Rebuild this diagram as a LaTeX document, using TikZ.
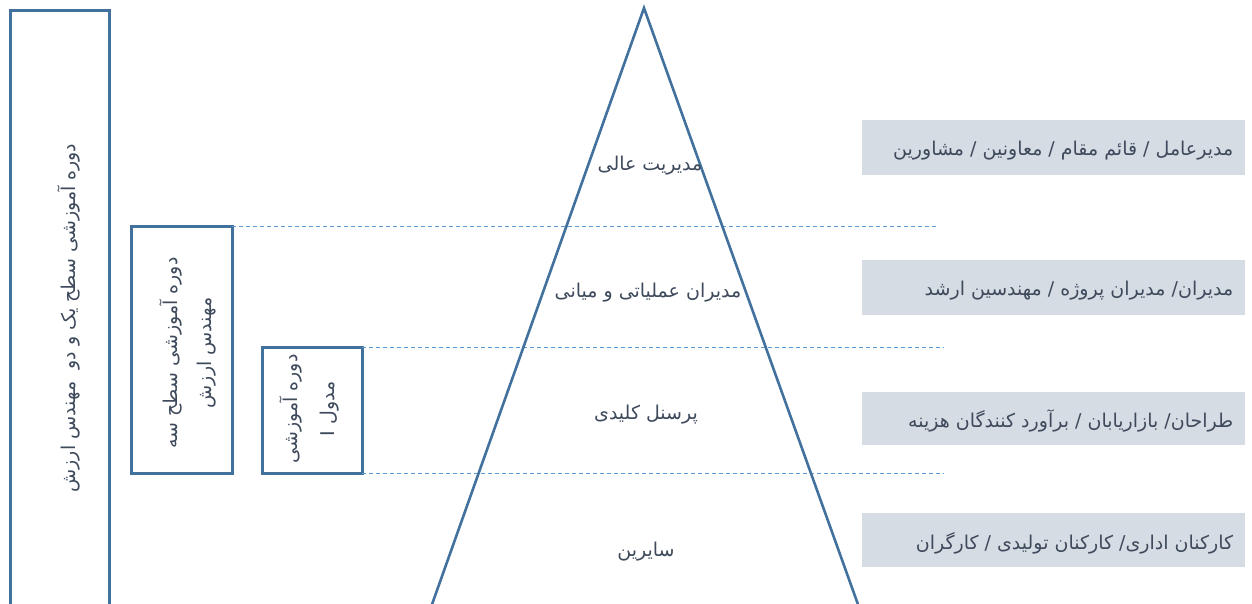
\documentclass[tikz,border=0pt]{standalone}
\usepackage{fontspec}
\newfontfamily\arabicfont[Script=Arabic]{DejaVu Sans}
\TeXXeTstate=1
\definecolor{edge}{HTML}{41719C}
\definecolor{dash}{HTML}{5B9BD5}
\definecolor{band}{HTML}{D6DCE4}
\definecolor{txt}{HTML}{3E4A5C}
\tikzset{
  frame/.style={draw=edge, line width=3pt, anchor=north west, inner sep=0pt, outer sep=0pt},
  divider/.style={draw=dash, line width=1pt, dash pattern=on 4pt off 3pt},
  rolebox/.style={fill=band, minimum width=383pt, minimum height=55pt, anchor=north west, inner sep=0pt},
  roletxt/.style={text=txt, font=\arabicfont\fontsize{19}{22}\selectfont, anchor=east, inner sep=0pt},
  leveltxt/.style={text=txt, font=\arabicfont\fontsize{19}{22}\selectfont, inner sep=0pt},
  vtxt/.style={text=txt, font=\arabicfont\fontsize{19}{34}\selectfont, rotate=90, align=center, inner sep=0pt}
}
\begin{document}
\begin{tikzpicture}[x=1pt,y=-1pt]
\useasboundingbox (0,0) rectangle (1252,603);
\clip (0,0) rectangle (1252,603);
% left boxes
\node[frame, minimum width=99pt, minimum height=620pt] (lbox) at (10,10) {};
\node[frame, minimum width=101pt, minimum height=247pt] (mbox) at (131,226) {};
\node[frame, minimum width=100pt, minimum height=126pt] (sbox) at (262,347) {};
\node[vtxt] (ltext) at (69,318) {\beginR دوره آموزشی سطح یک و دو\ \ مهندس ارزش\endR};
\node[vtxt] (mtext) at (188,353) {\beginR دوره آموزشی سطح سه\endR\\\beginR مهندس ارزش\endR};
\node[vtxt, font=\arabicfont\fontsize{19}{37}\selectfont] (stext) at (309,409) {\beginR دوره آموزشی\endR\\\beginR مدول I\endR};
% dashed dividers
\coordinate (d1) at (937,226);
\coordinate (d2) at (944,347);
\coordinate (d3) at (944,473);
\draw[divider] (mbox.north east) -- (mbox.north east -| d1);
\draw[divider] (sbox.north east) -- (sbox.north east -| d2);
\draw[divider] (sbox.south east) -- (sbox.south east -| d3);
% pyramid
\draw[edge, line width=2.6pt, line join=miter] (430,610) -- (644,8) -- (860,610);
% level labels
\node[leveltxt] (l1) at (650,166) {\beginR مدیریت عالی\endR};
\node[leveltxt] (l2) at (648,293) {\beginR مدیران عملیاتی و میانی\endR};
\node[leveltxt] (l3) at (646,415) {\beginR پرسنل کلیدی\endR};
\node[leveltxt] (l4) at (646,552) {\beginR سایرین\endR};
% role bands
\node[rolebox] (r1) at (862,120) {};
\node[rolebox] (r2) at (862,260) {};
\node[rolebox, minimum height=53pt] (r3) at (862,392) {};
\node[rolebox, minimum height=54pt] (r4) at (862,513) {};
\node[roletxt] (t1) at ([xshift=-12pt,yshift=-3pt]r1.east) {\beginR مدیرعامل / قائم مقام / معاونین / مشاورین\endR};
\node[roletxt] (t2) at ([xshift=-12pt,yshift=-3pt]r2.east) {\beginR مدیران/ مدیران پروژه / مهندسین ارشد\endR};
\node[roletxt] (t3) at ([xshift=-12pt,yshift=-2pt]r3.east) {\beginR طراحان/ بازاریابان / برآورد کنندگان هزینه\endR};
\node[roletxt] (t4) at ([xshift=-12pt,yshift=-3pt]r4.east) {\beginR کارکنان اداری/ کارکنان تولیدی / کارگران\endR};
\end{tikzpicture}
\end{document}
